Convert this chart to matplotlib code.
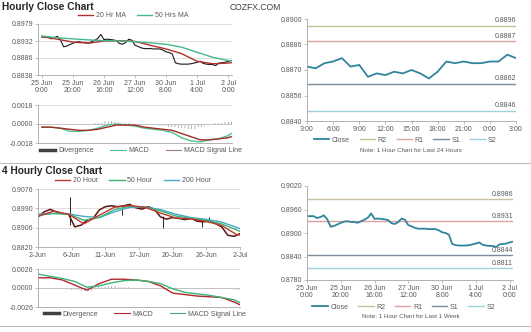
import numpy as np
import matplotlib
matplotlib.use('Agg')
import matplotlib.pyplot as plt
from matplotlib.lines import Line2D

plt.rcParams['font.family'] = ['Liberation Sans', 'DejaVu Sans']
plt.rcParams['font.size'] = 5
plt.rcParams['hatch.linewidth'] = 0.5

TXT = '#595959'
GRID = '#d9d9d9'
SPINE = '#a6a6a6'

# ---------------- data ----------------
# last week, hourly close (every 2nd hour)
wk_hours = list(range(0, 123, 2))
wk_close = [0.8943, 0.8943, 0.8943, 0.8938, 0.8941, 0.8945, 0.8935, 0.8916, 0.8918, 0.8922,
            0.8926, 0.8929, 0.8930, 0.8928, 0.8928, 0.8926, 0.8930, 0.8934, 0.8939, 0.8950,
            0.8936, 0.8937, 0.8936, 0.8935, 0.8933, 0.8925, 0.8923, 0.8928, 0.8937, 0.8934,
            0.8920, 0.8917, 0.8913, 0.8911, 0.8911, 0.8911, 0.8910, 0.8910, 0.8910, 0.8907,
            0.8902, 0.8900, 0.8896, 0.8872, 0.8869, 0.8868, 0.8868, 0.8868, 0.8869, 0.8871,
            0.8873, 0.8876, 0.8870, 0.8868, 0.8867, 0.8867, 0.8864, 0.8871, 0.8872, 0.8873,
            0.8876, 0.8878]
wk_ticks = [0, 20, 40, 60, 80, 100, 120]
wk_labels = ['25 Jun\n0:00', '25 Jun\n20:00', '26 Jun\n16:00', '27 Jun\n12:00',
             '30 Jun\n8:00', '1 Jul\n4:00', '2 Jul\n0:00']

ma_hours = [0, 10, 20, 30, 40, 50, 60, 70, 80, 90, 100, 110, 120, 122]
ma20_hr = [0.8944, 0.8937, 0.8929, 0.8926, 0.8932, 0.8933, 0.8931, 0.8920, 0.8910, 0.8897,
           0.8876, 0.8869, 0.8871, 0.8872]
ma50_hr = [0.8946, 0.8941, 0.8938, 0.8935, 0.8933, 0.8932, 0.8930, 0.8927, 0.8923, 0.8915,
           0.8901, 0.8887, 0.8878, 0.8877]

macd_hours = [0, 6, 12, 18, 24, 30, 36, 42, 48, 54, 60, 66, 72, 78, 84, 90, 96, 102, 108, 114, 120, 122]
macd_hr = [-0.0003, -0.0003, -0.0004, -0.0007, -0.0007, -0.0006, -0.0004, -0.0001, 0.0000, -0.0001,
           -0.0002, -0.0004, -0.0005, -0.0006, -0.0008, -0.0013, -0.0016, -0.0017, -0.0015, -0.0014,
           -0.0011, -0.0009]
signal_hr = [-0.0003, -0.0003, -0.0004, -0.0005, -0.0006, -0.0006, -0.0005, -0.0003, -0.0001, -0.0001,
             -0.0001, -0.0003, -0.0004, -0.0005, -0.0006, -0.0009, -0.0012, -0.0015, -0.0015, -0.0014,
             -0.0013, -0.0012]
div_hr = [0.0000, 0.0000, -0.00005, -0.0001, -0.00005, 0.0000, 0.0001, 0.0003, 0.0002, 0.0001,
          0.0000, -0.00005, -0.0001, -0.0002, -0.0003, -0.0004, -0.0005, -0.0003, 0.0000, 0.0001,
          0.0002, 0.0002]

# last 24 hours
day_hours = list(range(25))
day_close = [0.8872, 0.8871, 0.8874, 0.8875, 0.8877, 0.8872, 0.8873, 0.8866, 0.8868, 0.8867,
             0.8869, 0.8868, 0.8870, 0.8868, 0.8865, 0.8869, 0.8875, 0.8874, 0.8875, 0.8874,
             0.8874, 0.8875, 0.8875, 0.8879, 0.8877]
day_ticks = [0, 3, 6, 9, 12, 15, 18, 21, 24]
day_labels = ['3:00', '6:00', '9:00', '12:00', '15:00', '18:00', '21:00', '0:00', '3:00']

level_names = ['R2', 'R1', 'S1', 'S2']
level_colors = ['#c9c39b', '#d9a3a2', '#7f8c99', '#9fd0df']
day_levels = [0.8896, 0.8887, 0.8862, 0.8846]
wk_levels = [0.8986, 0.8931, 0.8844, 0.8811]

# 4 hourly chart (every 4th bar)
h4_bars = list(range(0, 133, 4))
h4_close = [0.8953, 0.8975, 0.8986, 0.8975, 0.8968, 0.8964, 0.8909, 0.8916, 0.8938, 0.8946,
            0.8983, 0.8998, 0.9002, 0.8998, 0.9002, 0.9008, 0.8993, 0.8987, 0.8998, 0.8987,
            0.8953, 0.8943, 0.8950, 0.8946, 0.8941, 0.8946, 0.8934, 0.8931, 0.8934, 0.8924,
            0.8909, 0.8872, 0.8867, 0.8879]
spike_bars = [21, 55, 82, 107, 112]
spike_high = [0.9040, 0.8990, 0.8955, 0.8945, 0.8953]
spike_low = [0.8915, 0.8960, 0.8904, 0.8909, 0.8930]
h4_ticks = [0, 22, 44, 66, 88, 110, 132]
h4_labels = ['2-Jun', '6-Jun', '11-Jun', '17-Jun', '20-Jun', '26-Jun', '2-Jul']

h4_ma_bars = [0, 10, 20, 30, 40, 50, 60, 70, 80, 90, 100, 110, 120, 130, 132]
ma20_4h = [0.8955, 0.8978, 0.8965, 0.8922, 0.8960, 0.8996, 0.9003, 0.8995, 0.8970, 0.8948,
           0.8944, 0.8933, 0.8915, 0.8874, 0.8873]
ma50_4h = [0.8960, 0.8968, 0.8965, 0.8938, 0.8950, 0.8985, 0.9000, 0.8996, 0.8980, 0.8957,
           0.8946, 0.8937, 0.8922, 0.8895, 0.8889]
ma200_4h = [0.8965, 0.8968, 0.8966, 0.8955, 0.8950, 0.8975, 0.8995, 0.8996, 0.8985, 0.8965,
            0.8950, 0.8942, 0.8930, 0.8906, 0.8901]

h4_macd_bars = [0, 8, 16, 24, 32, 40, 48, 56, 64, 72, 80, 88, 96, 104, 112, 120, 128, 132]
macd_4h = [0.0014, 0.0014, 0.0011, 0.0004, -0.0003, 0.0006, 0.0012, 0.0012, 0.0011, 0.0009,
           0.0003, -0.0007, -0.0009, -0.0011, -0.0012, -0.0013, -0.0019, -0.0023]
signal_4h = [0.0019, 0.0016, 0.0013, 0.0009, 0.0001, 0.0003, 0.0007, 0.0010, 0.0011, 0.0009,
             0.0006, -0.0001, -0.0006, -0.0008, -0.0010, -0.0013, -0.0016, -0.0020]
div_4h = [-0.0001, -0.0001, -0.0001, -0.0003, -0.0004, 0.0002, 0.0003, 0.0001, 0.0000, 0.0000,
          -0.0001, -0.0002, -0.0002, -0.0001, -0.0001, -0.0001, -0.0002, -0.0003]


def style(ax):
    for s in ['top', 'right']:
        ax.spines[s].set_visible(False)
    for s in ['left', 'bottom']:
        ax.spines[s].set_color(SPINE)
        ax.spines[s].set_linewidth(0.6)
    ax.tick_params(length=2, width=0.5, color=SPINE, labelcolor=TXT, labelsize=5, pad=1.5)


def yticks(ax, lo, hi, labels):
    ax.set_ylim(lo, hi)
    ax.set_yticks(np.linspace(lo, hi, len(labels)))
    ax.set_yticklabels(labels)


LEG = dict(loc='center', frameon=False, fontsize=5, handlelength=2.2, handletextpad=0.4, labelcolor=TXT)

W, H = 531, 332


def add_ax(x0, y0, x1, y1):
    return fig.add_axes([x0 / W, 1 - y1 / H, (x1 - x0) / W, (y1 - y0) / H])


fig = plt.figure(figsize=(5.31, 3.32), dpi=100)

# ---------- hourly price ----------
ax = add_ax(38, 24, 232, 75)
style(ax)
ax.yaxis.grid(True, color=GRID, lw=0.6)
ax.set_axisbelow(True)
ax.plot(wk_hours, wk_close, color='#1a1a1a', lw=0.8)
ax.plot(ma_hours, ma20_hr, color='#b0302c', lw=1.0, label='20 Hr MA')
ax.plot(ma_hours, ma50_hr, color='#45b98a', lw=1.0, label='50 Hrs MA')
ax.set_xlim(-2.5, 122.5)
ax.set_xticks(wk_ticks)
ax.set_xticklabels(wk_labels, linespacing=1.1)
yticks(ax, 0.8838, 0.8979, ['0.8838', '0.8886', '0.8932', '0.8979'])
ax.legend(bbox_to_anchor=(0.49, 1.16), ncol=2, columnspacing=1.6, **LEG)

# ---------- hourly MACD ----------
ax = add_ax(38, 105, 232, 143)
style(ax)
ax.yaxis.grid(True, color=GRID, lw=0.6)
ax.axhline(0, color='#bfbfbf', lw=0.6)
ax.bar(macd_hours, div_hr, width=6, facecolor='none', edgecolor='#9a9a9a', hatch='|||||', lw=0)
ax.plot(macd_hours, macd_hr, color='#4cc38f', lw=1.0)
ax.plot(macd_hours, signal_hr, color='#a52a2a', lw=1.0)
ax.set_xlim(-2.5, 122.5)
ax.set_xticks([])
yticks(ax, -0.0018, 0.0018, ['-0.0018', '0.0000', '0.0018'])
handles = [Line2D([], [], color='#404040', lw=2.5), Line2D([], [], color='#4cc38f', lw=0.8),
           Line2D([], [], color='#a08080', lw=0.8)]
ax.legend(handles, ['Divergence', 'MACD', 'MACD Signal Line'], bbox_to_anchor=(0.53, -0.21),
          ncol=3, columnspacing=2.4, **LEG)

# ---------- last 24 hours ----------
ax = add_ax(307, 19, 516, 121)
style(ax)
for name, lvl, c in zip(level_names, day_levels, level_colors):
    ax.axhline(lvl, color=c, lw=1.0, label=name)
    ax.text(day_hours[-1], lvl + 0.00008, f'{lvl:.4f}', ha='right', va='bottom', fontsize=5, color=TXT)
ax.plot(day_hours, day_close, color='#31849b', lw=1.3, label='Close')
ax.set_xlim(0, 24)
ax.set_xticks(day_ticks)
ax.set_xticklabels(day_labels)
yticks(ax, 0.8840, 0.8900, ['0.8840', '0.8856', '0.8870', '0.8886', '0.8900'])
h, l = ax.get_legend_handles_labels()
ax.legend(h[-1:] + h[:-1], l[-1:] + l[:-1], bbox_to_anchor=(0.47, -0.19), ncol=5,
          columnspacing=1.4, **LEG)
fig.text(411 / W, 1 - 151 / H, 'Note: 1 Hour Chart for Last 24 Hours', ha='center', va='center',
         fontsize=4.5, color=TXT)

# ---------- 4 hourly price ----------
ax = add_ax(38, 189, 240, 247)
style(ax)
ax.yaxis.grid(True, color=GRID, lw=0.6)
ax.set_axisbelow(True)
ax.vlines(spike_bars, spike_low, spike_high, color='#262626', lw=0.7)
ax.plot(h4_bars, h4_close, color='#5a1414', lw=1.1)
ax.plot(h4_ma_bars, ma200_4h, color='#4aa8c4', lw=1.0, label='200 Hour')
ax.plot(h4_ma_bars, ma50_4h, color='#3db37a', lw=1.0, label='50 Hour')
ax.plot(h4_ma_bars, ma20_4h, color='#c0392b', lw=1.0, label='20 Hour')
ax.set_xlim(0, 132)
ax.set_xticks(h4_ticks)
ax.set_xticklabels(h4_labels)
yticks(ax, 0.8820, 0.9076, ['0.8820', '0.8906', '0.8990', '0.9076'])
h, l = ax.get_legend_handles_labels()
ax.legend(h[::-1], l[::-1], bbox_to_anchor=(0.47, 1.14), ncol=3, columnspacing=1.6, **LEG)

# ---------- 4 hourly MACD ----------
ax = add_ax(38, 269, 240, 307)
style(ax)
ax.yaxis.grid(True, color=GRID, lw=0.6)
ax.axhline(0, color='#bfbfbf', lw=0.6)
ax.bar(h4_macd_bars, div_4h, width=8, facecolor='none', edgecolor='#9a9a9a', hatch='|||||', lw=0)
ax.plot(h4_macd_bars, macd_4h, color='#b0282a', lw=1.0)
ax.plot(h4_macd_bars, signal_4h, color='#3db37a', lw=1.0)
ax.set_xlim(0, 132)
ax.set_xticks([])
yticks(ax, -0.0026, 0.0026, ['-0.0026', '0.0000', '0.0026'])
handles = [Line2D([], [], color='#404040', lw=2.5), Line2D([], [], color='#b0282a', lw=0.8),
           Line2D([], [], color='#3db37a', lw=0.8)]
ax.legend(handles, ['Divergence', 'MACD', 'MACD Signal Line'], bbox_to_anchor=(0.53, -0.19),
          ncol=3, columnspacing=2.4, **LEG)

# ---------- last week ----------
ax = add_ax(307, 186, 513, 280)
style(ax)
for name, lvl, c in zip(level_names, wk_levels, level_colors):
    ax.axhline(lvl, color=c, lw=1.0, label=name)
    ax.text(wk_hours[-1], lvl + 0.0003, f'{lvl:.4f}', ha='right', va='bottom', fontsize=5, color=TXT)
ax.plot(wk_hours, wk_close, color='#31849b', lw=1.3, label='Close')
ax.set_xlim(0, 122)
ax.set_xticks(wk_ticks)
ax.set_xticklabels(wk_labels, linespacing=1.1)
yticks(ax, 0.8780, 0.9020, ['0.8780', '0.8840', '0.8900', '0.8960', '0.9020'])
h, l = ax.get_legend_handles_labels()
ax.legend(h[-1:] + h[:-1], l[-1:] + l[:-1], bbox_to_anchor=(0.47, -0.29), ncol=5,
          columnspacing=1.4, **LEG)
fig.text(411 / W, 1 - 317 / H, 'Note: 1 Hour Chart for Last 1 Week', ha='center', va='center',
         fontsize=4.5, color=TXT)

# ---------- titles and separators ----------
fig.text(2 / W, 1 - 9.5 / H, 'Hourly Close Chart', fontsize=7.3, weight='bold', color='#262626')
fig.text(230 / W, 1 - 9.5 / H, 'COZFX.COM', fontsize=6.2, color='#404040')
fig.text(2 / W, 1 - 174.5 / H, '4 Hourly Close Chart', fontsize=7.3, weight='bold', color='#262626')
for yy in [163, 326]:
    fig.add_artist(Line2D([0, 1], [1 - yy / H] * 2, transform=fig.transFigure, color='#bfbfbf', lw=0.8))

fig.savefig('out.png', dpi=100)
